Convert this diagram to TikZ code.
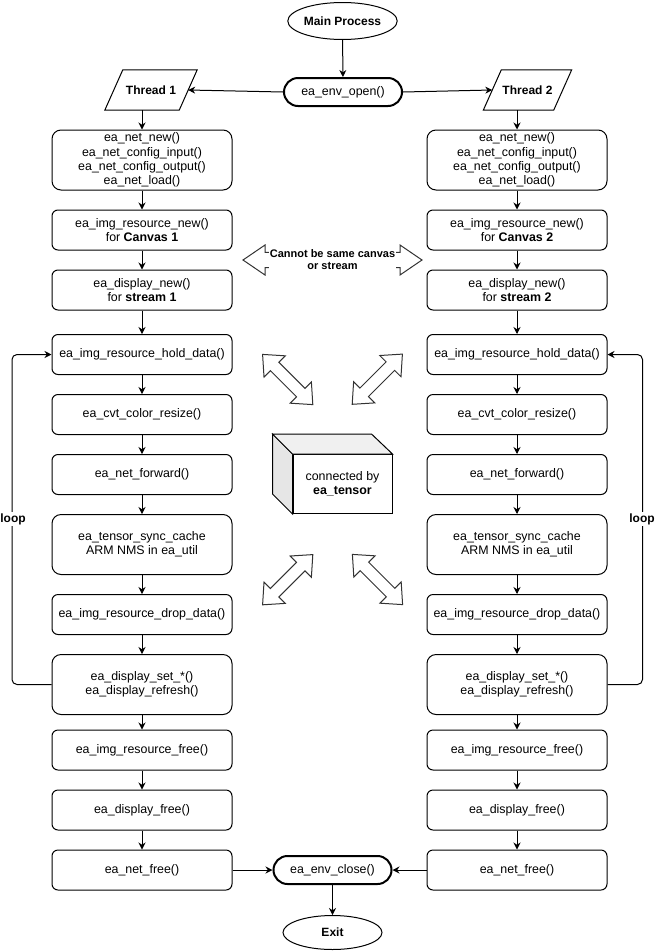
\documentclass[tikz,border=0pt]{standalone}
\usepackage{fontspec}
\setmainfont{Liberation Sans}
\usetikzlibrary{arrows.meta,calc,shapes.geometric}
\definecolor{cubetop}{HTML}{F0F0F0}
\definecolor{cubeside}{HTML}{E6E6E6}
\newcommand{\diagarrow}[3]{%
\begin{scope}[shift={(#1,#2)}, rotate=#3]
\draw[blk] (-35.5,0) -- (-18.5,-15) -- (-18.5,-6) -- (18.5,-6) -- (18.5,-15) -- (35.5,0) -- (18.5,15) -- (18.5,6) -- (-18.5,6) -- (-18.5,15) -- cycle;
\end{scope}}
\begin{document}
\begin{tikzpicture}[x=1pt,y=-1pt,
  every node/.style={font=\fontsize{12.4}{14.4}\selectfont, inner sep=0pt},
  box/.style={draw, line width=1pt, rounded corners=6pt, minimum width=180pt, minimum height=40pt, align=center},
  tallbox/.style={box, rounded corners=9pt, minimum height=60pt},
  arr/.style={line width=1pt, -{Stealth[length=7pt,width=7pt]}},
  bold/.style={font=\bfseries\fontsize{12}{14.4}\selectfont},
  oval/.style={draw, ellipse, line width=1pt, minimum width=99pt, minimum height=37pt},
  term/.style={draw, rounded corners=14pt, line width=2pt, minimum width=118pt, minimum height=28pt},
  blk/.style={draw=black!80, fill=white, line width=1pt, line join=miter}
]
\useasboundingbox (0,0) rectangle (654,951);

% top
\node[oval, bold] (main) at (342.5,21) {Main Process};
\node[term] (open) at (343,92) {ea\_env\_open()};
\node[bold, minimum width=92pt, minimum height=40pt] (t1) at (151,90) {Thread 1};
\node[bold, minimum width=88pt, minimum height=40pt] (t2) at (527.5,90) {Thread 2};
\draw[line width=1pt] (t1.south west) -- ($(t1.north west)+(18,0)$) -- (t1.north east) -- ($(t1.south east)+(-18,0)$) -- cycle;
\draw[line width=1pt] (t2.south west) -- ($(t2.north west)+(18,0)$) -- (t2.north east) -- ($(t2.south east)+(-18,0)$) -- cycle;
\draw[arr] (main) -- (open);
\draw[arr] (open.west) -- ($(t1.east)+(-9,0)$);
\draw[arr] (open.east) -- ($(t2.west)+(9,0)$);

% columns
\foreach \s/\x/\n in {L/142/1, R/517/2} {
  \node[tallbox] (\s1) at (\x,160) {ea\_net\_new()\\ea\_net\_config\_input()\\ea\_net\_config\_output()\\ea\_net\_load()};
  \node[box] (\s2) at (\x,230) {ea\_img\_resource\_new()\\for \textbf{Canvas \n}};
  \node[box] (\s3) at (\x,290) {ea\_display\_new()\\for \textbf{stream \n}};
  \node[box] (\s4) at (\x,354.5) {ea\_img\_resource\_hold\_data()};
  \node[box] (\s5) at (\x,414.5) {ea\_cvt\_color\_resize()};
  \node[box] (\s6) at (\x,474.5) {ea\_net\_forward()};
  \node[tallbox] (\s7) at (\x,544.5) {ea\_tensor\_sync\_cache\\ARM NMS in ea\_util};
  \node[box] (\s8) at (\x,614.5) {ea\_img\_resource\_drop\_data()};
  \node[tallbox] (\s9) at (\x,684.5) {ea\_display\_set\_*()\\ea\_display\_refresh()};
  \node[box] (\s10) at (\x,750) {ea\_img\_resource\_free()};
  \node[box] (\s11) at (\x,810) {ea\_display\_free()};
  \node[box] (\s12) at (\x,870) {ea\_net\_free()};
  \foreach \a/\b in {1/2,2/3,3/4,4/5,5/6,6/7,7/8,8/9,9/10,10/11,11/12}
    \draw[arr] (\s\a) -- (\s\b);
}
\draw[arr] (t1.south -| L1.north) -- (L1.north);
\draw[arr] (t2.south -| R1.north) -- (R1.north);

% loops
\draw[arr, rounded corners=5pt] (L9.west) -- ++(-39.5,0) |- (L4.west);
\draw[arr, rounded corners=5pt] (R9.east) -- ++(35,0) |- (R4.east);
\node[bold, fill=white, inner sep=1pt] (loopl) at (13,519) {loop};
\node[bold, fill=white, inner sep=1pt] (loopr) at (642,519) {loop};

% bottom
\node[term] (close) at (332.5,870) {ea\_env\_close()};
\node[oval, bold, minimum height=34pt] (exit) at (332.5,932.5) {Exit};
\draw[arr] (L12.east) -- (close.west);
\draw[arr] (R12.west) -- (close.east);
\draw[arr] (close) -- (exit);

% horizontal block arrow
\begin{scope}[shift={(332.5,260)}]
\draw[blk] (-89.5,0) -- (-67.5,-15) -- (-67.5,-7.7) -- (67.5,-7.7) -- (67.5,-15) -- (89.5,0) -- (67.5,15) -- (67.5,7.7) -- (-67.5,7.7) -- (-67.5,15) -- cycle;
\end{scope}
\node[font=\bfseries\fontsize{11}{12}\selectfont, align=center, fill=white, inner sep=1pt] (cannot) at (332.5,260) {Cannot be same canvas\\or stream};

% diagonal block arrows
\diagarrow{287.7}{379.5}{-45}
\diagarrow{377.3}{379.2}{45}
\diagarrow{287.7}{579.7}{45}
\diagarrow{377.5}{579.5}{-45}

% cube
\node[draw, fill=white, line width=1pt, minimum width=99pt, minimum height=59pt, align=center] (cube) at (342.5,484) {connected by\\\textbf{ea\_tensor}};
\draw[line width=1pt, fill=cubeside, line join=miter] (cube.north west) -- ++(-20,-20) -- ++(0,60) -- (cube.south west) -- cycle;
\draw[line width=1pt, fill=cubetop, line join=miter] (cube.north west) -- ++(-20,-20) -- ++(99,0) -- (cube.north east) -- cycle;
\end{tikzpicture}
\end{document}
